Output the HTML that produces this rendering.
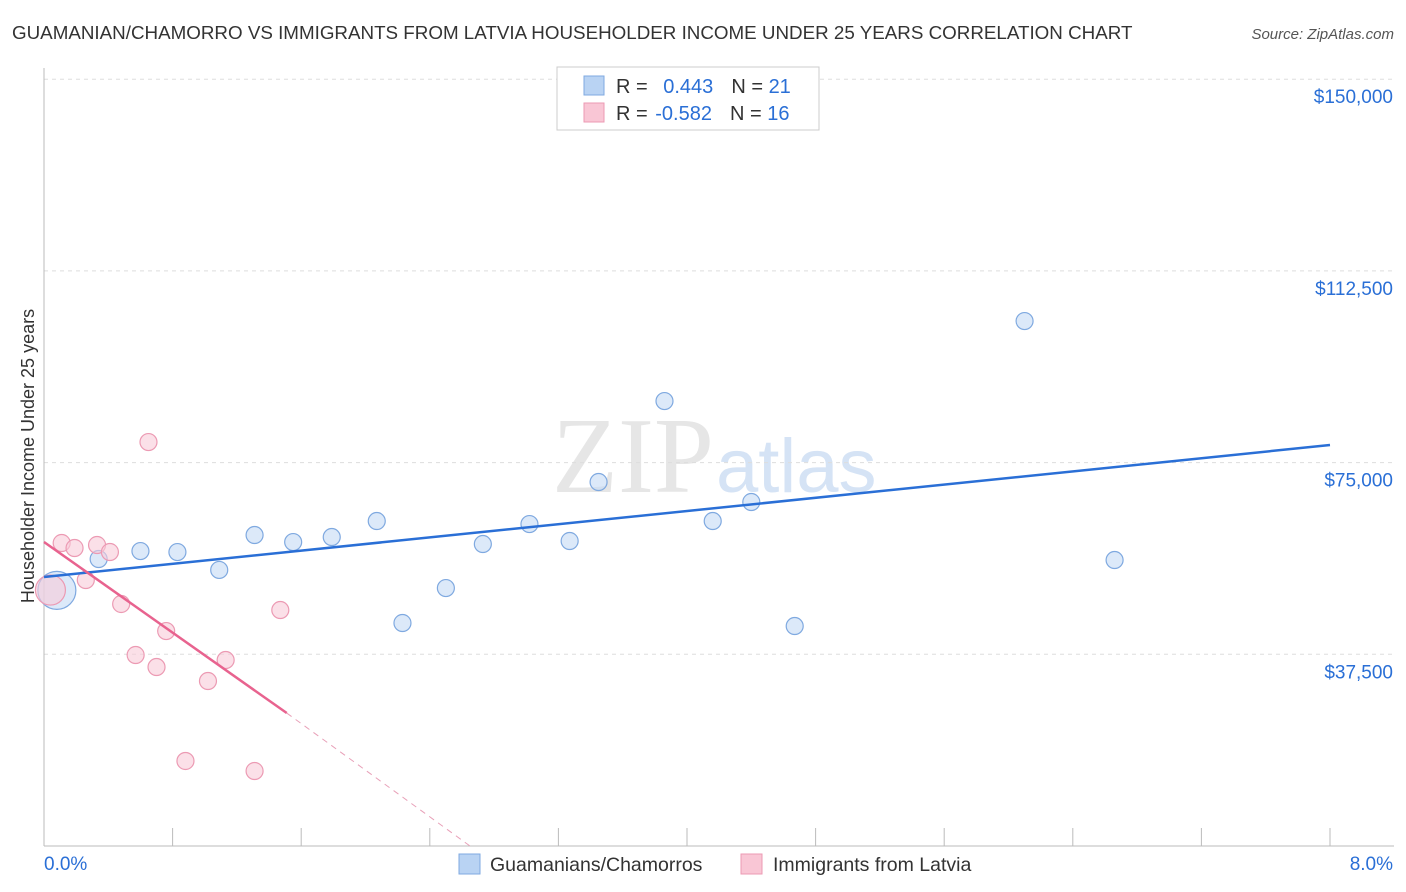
<!DOCTYPE html>
<html><head><meta charset="utf-8"><style>
body{margin:0;background:#fff;font-family:"Liberation Sans",sans-serif;}
svg{display:block}
</style></head><body>
<svg id="c" width="1406" height="892">
<text x="12" y="39" font-size="18.8" fill="#333">GUAMANIAN/CHAMORRO VS IMMIGRANTS FROM LATVIA HOUSEHOLDER INCOME UNDER 25 YEARS CORRELATION CHART</text>
<text x="1394" y="39" font-size="15" fill="#555" font-style="italic" text-anchor="end">Source: ZipAtlas.com</text>
<text x="714" y="492" font-size="108" fill="#e6e6e6" text-anchor="end" font-family="Liberation Serif,serif">ZIP</text>
<text x="716" y="492" font-size="76" fill="#d5e3f5">atlas</text>
<g id="grid"></g><g id="axes"></g><g id="marks"></g>
<text transform="translate(34,456) rotate(-90)" font-size="18" fill="#333" text-anchor="middle">Householder Income Under 25 years</text>
<g>
<rect x="557" y="67" width="262" height="63" fill="#fff" stroke="#ccc"/>
<rect x="584" y="76" width="20" height="19" fill="#b9d3f3" stroke="#7fa9e0"/>
<rect x="584" y="103" width="20" height="19" fill="#f9c6d5" stroke="#ec9ab3"/>
<text x="616" y="93" font-size="20" fill="#333">R = <tspan fill="#2a6fd6" dx="10">0.443</tspan><tspan dx="18" fill="#333">N = </tspan><tspan fill="#2a6fd6">21</tspan></text>
<text x="616" y="120" font-size="20" fill="#333">R = <tspan fill="#2a6fd6" dx="2">-0.582</tspan><tspan dx="18" fill="#333">N = </tspan><tspan fill="#2a6fd6">16</tspan></text>
</g>
<g>
<rect x="459" y="854" width="21" height="20" fill="#b9d3f3" stroke="#7fa9e0"/>
<text x="490" y="871" font-size="19.5" fill="#333">Guamanians/Chamorros</text>
<rect x="741" y="854" width="21" height="20" fill="#f9c6d5" stroke="#ec9ab3"/>
<text x="773" y="871" font-size="19.5" fill="#333">Immigrants from Latvia</text>
</g>
</svg>
<script>
const blueX=[0.08,0.34,0.60,0.83,1.09,1.31,1.55,1.79,2.07,2.23,2.50,2.73,3.02,3.27,3.45,3.86,4.16,4.40,4.67,6.10,6.66];
const blueY=[50000,56140,57700,57500,54000,60830,59460,60440,63570,43620,50460,59070,62980,59660,71200,87040,63570,67290,43030,102690,55940];
const pinkX=[0.04,0.11,0.19,0.33,0.41,0.26,0.48,0.65,0.57,0.70,0.76,1.02,1.13,0.88,1.31,1.47];
const pinkY=[50070,59270,58290,58880,57510,52030,47340,79020,37360,35010,42050,32270,36380,16630,14670,46160];
const blueLine=[[0,52620],[8,78440]];
const pinkLine=[[0,59460],[1.51,26010]];
const pinkDash=[[1.51,26010],[2.65,0]];
const yTicks=[37500,75000,112500,150000];
const yLabels=["$37,500","$75,000","$112,500","$150,000"];
const xLabels=["0.0%","8.0%"];
const NS="http://www.w3.org/2000/svg";
const sx=v=>44+v/8*1286, sy=v=>846-v/37500*191.7;
function mk(p,t,a){const e=document.createElementNS(NS,t);for(const k in a)e.setAttribute(k,a[k]);document.getElementById(p).appendChild(e);return e;}
yTicks.forEach((t,i)=>{
 const g=mk('grid','line',{x1:44,x2:1394,y1:sy(t),y2:sy(t),stroke:'#ddd','stroke-dasharray':'4,4'});
 
 
 const l=mk('grid','text',{x:1393,y:sy(t)+24,'font-size':19,fill:'#2a6fd6','text-anchor':'end'});l.textContent=yLabels[i];
 
 
});
const ya=mk('axes','line',{x1:44,x2:44,y1:68,y2:846,stroke:'#bbb'});


const xa=mk('axes','line',{x1:44,x2:1394,y1:846,y2:846,stroke:'#bbb'});


for(let i=0;i<=10;i++){const t=mk('axes','line',{x1:sx(i*0.8),x2:sx(i*0.8),y1:828,y2:846,stroke:'#bbb'});
 
 }
[[0,44,'start'],[1,1393,'end']].forEach(([i,x,a])=>{const t=mk('axes','text',{x:x,y:870,'font-size':19,fill:'#2a6fd6','text-anchor':a});t.textContent=xLabels[i];
 
 });
blueX.forEach((x,i)=>{const c=mk('marks','circle',{cx:sx(x),cy:sy(blueY[i]),r:i==0?19:8.5,fill:'#c4daf5','fill-opacity':0.6,stroke:'#7fa9e0','stroke-width':1.2});
 
 });
pinkX.forEach((x,i)=>{const c=mk('marks','circle',{cx:sx(x),cy:sy(pinkY[i]),r:i==0?15:8.5,fill:'#f9cbd9','fill-opacity':0.6,stroke:'#ec9ab3','stroke-width':1.2});
 
 });
const bl=mk('marks','line',{x1:sx(blueLine[0][0]),y1:sy(blueLine[0][1]),x2:sx(blueLine[1][0]),y2:sy(blueLine[1][1]),stroke:'#2a6fd6','stroke-width':2.5});


const pl=mk('marks','line',{x1:sx(pinkLine[0][0]),y1:sy(pinkLine[0][1]),x2:sx(pinkLine[1][0]),y2:sy(pinkLine[1][1]),stroke:'#e8638f','stroke-width':2.5});


const pd=mk('marks','line',{x1:sx(pinkDash[0][0]),y1:sy(pinkDash[0][1]),x2:sx(pinkDash[1][0]),y2:sy(pinkDash[1][1]),stroke:'#e8a0b8','stroke-width':1,'stroke-dasharray':'6,5'});


</script>
</body></html>
